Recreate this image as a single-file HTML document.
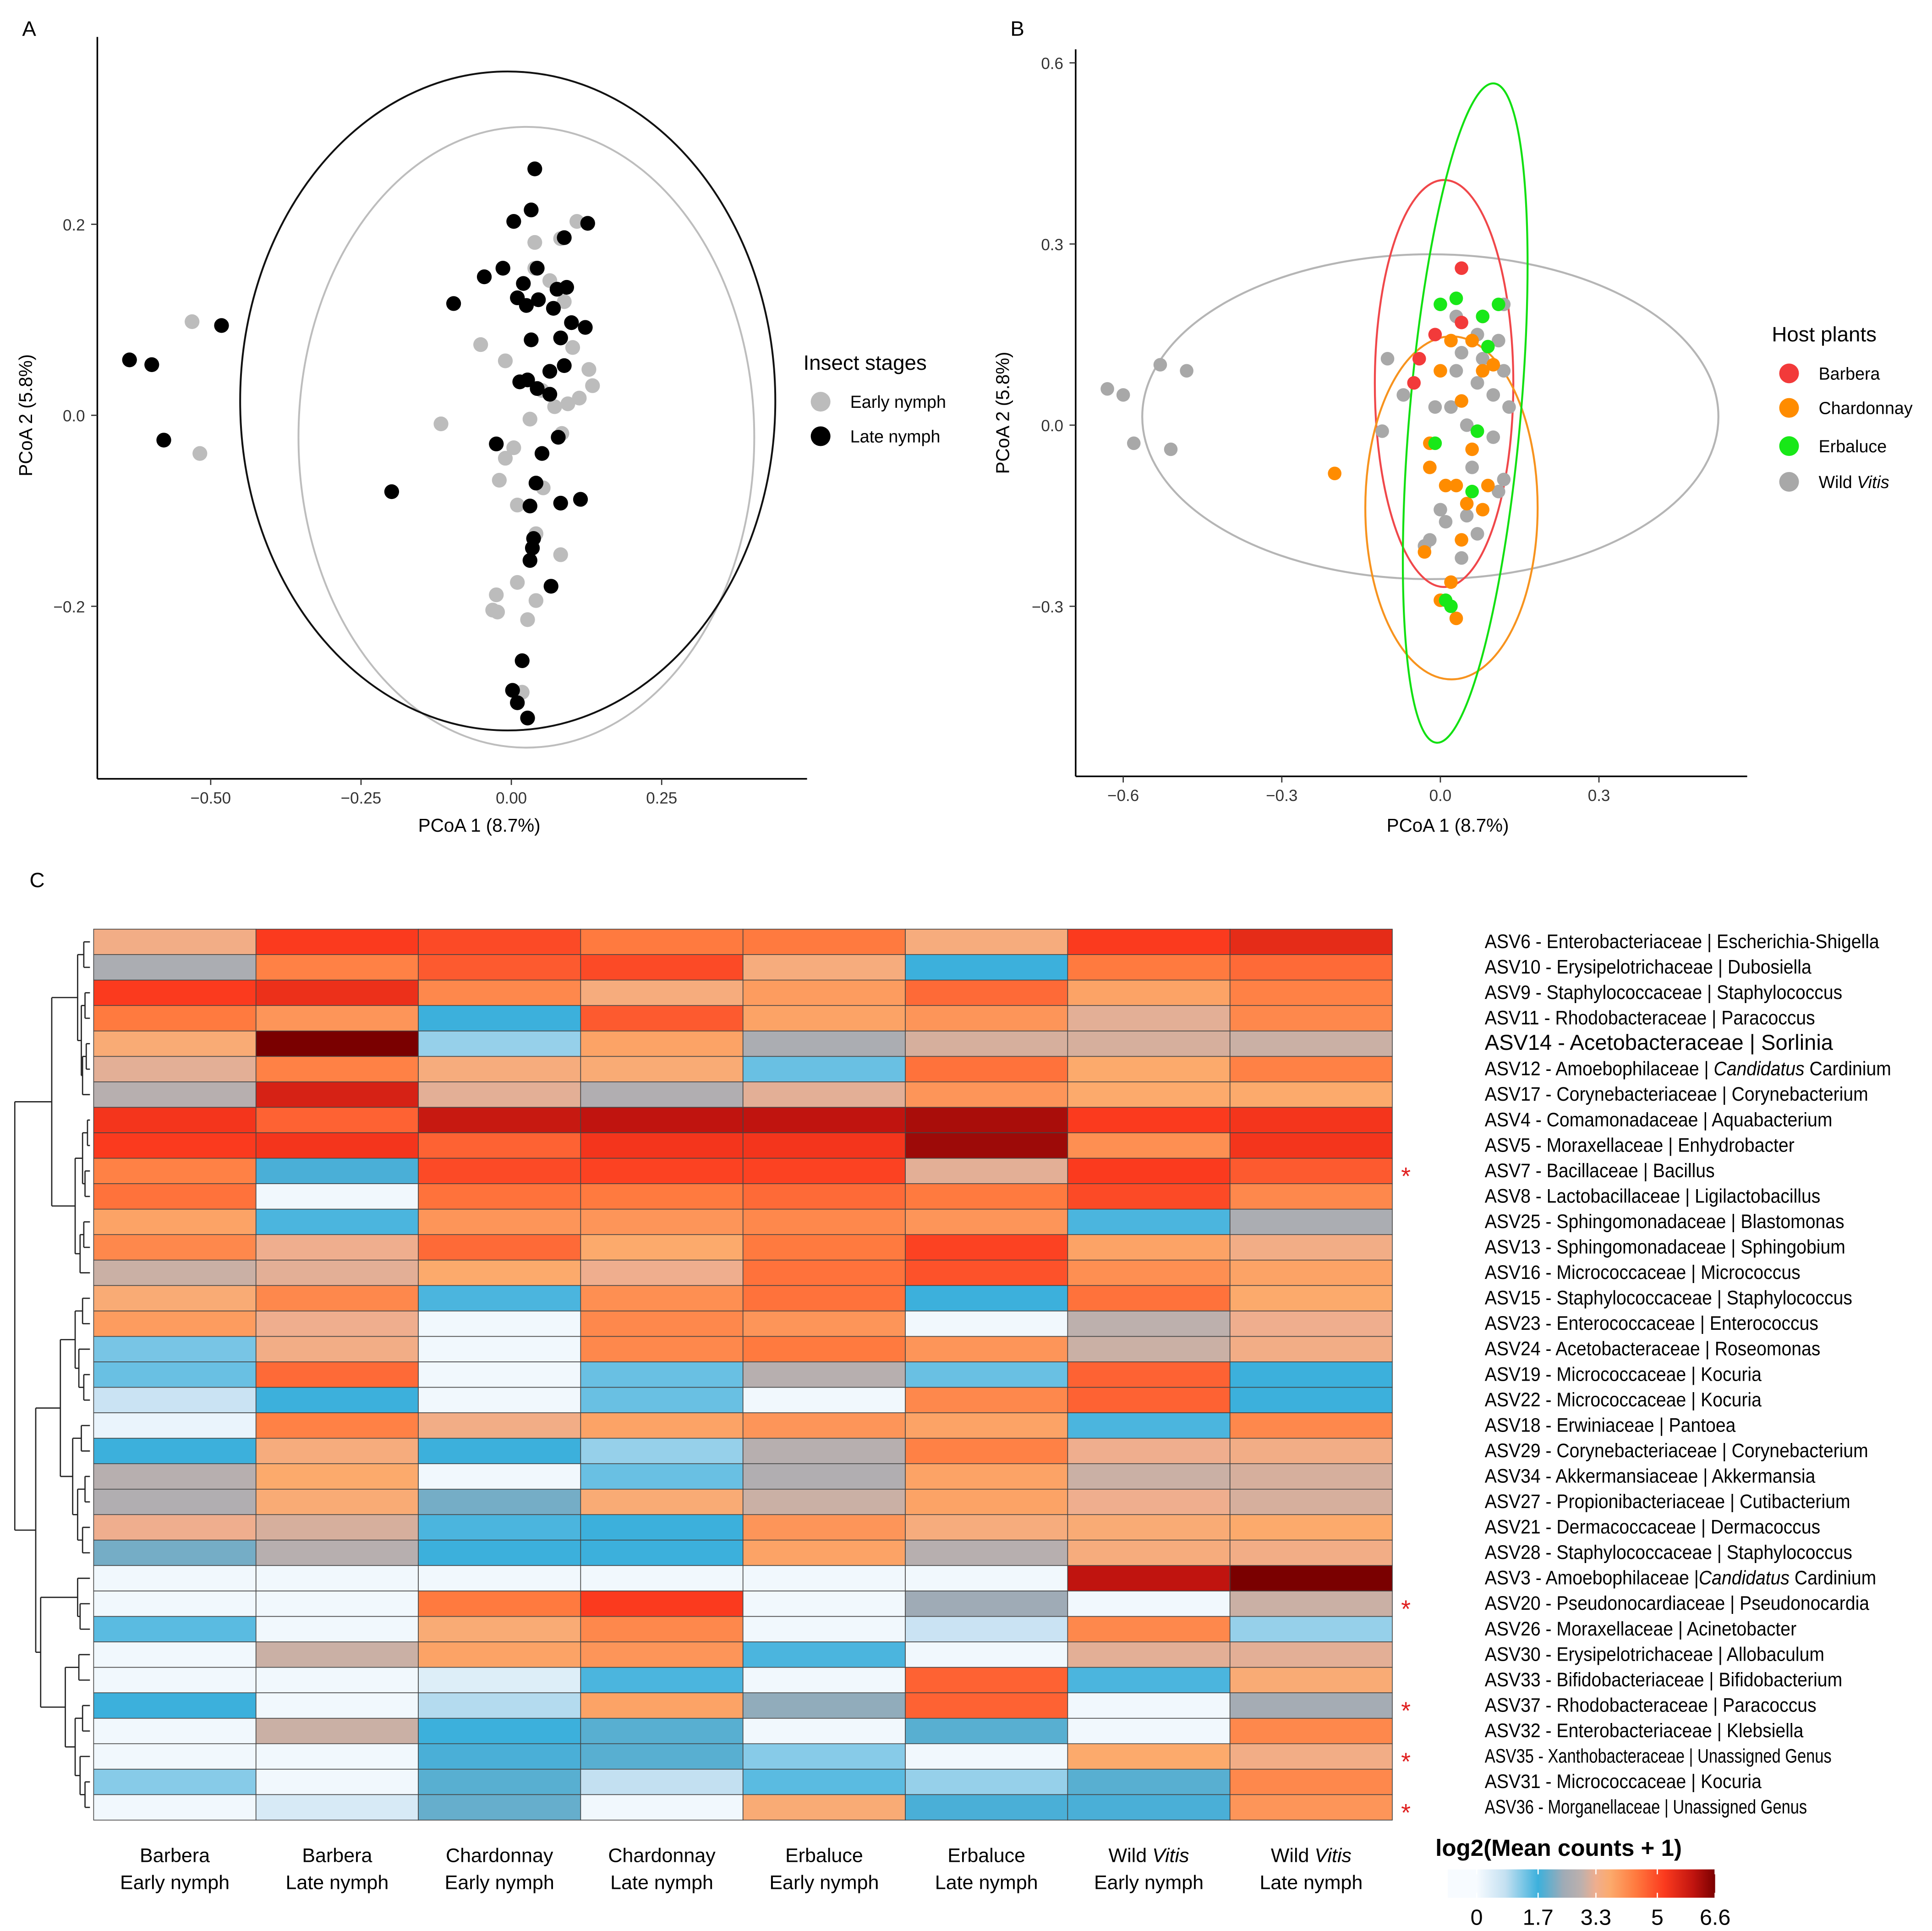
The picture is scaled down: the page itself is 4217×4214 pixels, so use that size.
<!DOCTYPE html>
<html><head><meta charset="utf-8">
<style>
html,body{margin:0;padding:0;background:#fff;}
svg{display:block;font-family:"Liberation Sans",sans-serif;}
</style></head>
<body>
<svg id="fig" width="4217" height="4214" viewBox="0 0 1568 1567" preserveAspectRatio="none" xmlns="http://www.w3.org/2000/svg">
<defs id="defs"></defs>
<rect x="0" y="0" width="1568" height="1567" fill="#fff"/>
<g id="pA"></g>
<g id="pB"></g>
<g id="pC"></g>
</svg>
<script>
// ---------- Panel A data ----------
const aLateX=[0.039,0.033,0.004,0.088,0.127,-0.014,-0.096,0.020,0.043,-0.045,0.010,0.045,0.076,0.092,0.025,0.070,0.123,0.100,0.033,0.082,0.088,0.064,0.027,0.014,0.043,0.064,-0.025,0.078,0.051,0.041,0.031,0.082,0.115,0.037,0.035,0.031,0.066,-0.199,-0.482,-0.635,-0.598,-0.578,0.018,0.002,0.010,0.027];
const aLateY=[0.258,0.215,0.203,0.186,0.201,0.154,0.117,0.138,0.154,0.145,0.123,0.121,0.132,0.134,0.115,0.112,0.092,0.097,0.079,0.081,0.052,0.046,0.037,0.035,0.028,0.022,-0.030,-0.023,-0.040,-0.071,-0.095,-0.092,-0.088,-0.129,-0.139,-0.152,-0.179,-0.080,0.094,0.058,0.053,-0.026,-0.257,-0.288,-0.301,-0.317];
const aEarlyX=[0.039,0.082,0.109,0.039,0.064,0.088,-0.051,-0.010,0.102,0.129,0.135,0.113,0.094,0.072,-0.117,-0.020,0.010,0.004,0.084,-0.010,0.053,0.041,0.082,0.010,-0.025,-0.031,-0.023,0.041,0.027,-0.531,-0.518,0.018,0.051,0.031];
const aEarlyY=[0.181,0.185,0.203,0.154,0.141,0.119,0.074,0.057,0.071,0.048,0.031,0.018,0.012,0.009,-0.009,-0.068,-0.094,-0.034,-0.019,-0.045,-0.076,-0.124,-0.146,-0.175,-0.188,-0.204,-0.206,-0.194,-0.214,0.098,-0.040,-0.290,0.026,-0.004];
const aXTicks=[-0.50,-0.25,0.00,0.25];
const aXTickLabels=["\u22120.50","\u22120.25","0.00","0.25"];
const aYTicks=[0.2,0.0,-0.2];
const aYTickLabels=["0.2","0.0","\u22120.2"];
const aEllLate=[-0.006,0.015,0.445,0.345];
const aEllEarly=[0.025,-0.023,0.379,0.325];

// ---------- Panel B data ----------
const bGrayX=[-0.63,-0.60,-0.53,-0.48,-0.58,-0.51,-0.10,-0.11,0.03,0.06,0.08,0.12,0.13,0.10,0.03,-0.01,0.02,0.07,0.05,0.10,0.06,0.12,0.11,0.05,0.01,-0.02,-0.03,0.07,0.04,0.00,0.12,0.11,0.04,-0.07,0.07];
const bGrayY=[0.06,0.05,0.10,0.09,-0.03,-0.04,0.11,-0.01,0.18,0.14,0.11,0.09,0.03,0.05,0.09,0.03,0.03,0.07,0.00,-0.02,-0.07,-0.09,-0.11,-0.15,-0.16,-0.19,-0.20,-0.18,-0.22,-0.14,0.20,0.14,0.12,0.05,0.15];
const bOrangeX=[-0.20,-0.02,0.02,0.06,0.10,0.00,0.04,0.06,-0.02,0.01,0.03,0.09,0.05,0.08,0.04,-0.03,0.02,0.00,0.03,0.08];
const bOrangeY=[-0.08,-0.03,0.14,0.14,0.10,0.09,0.04,-0.04,-0.07,-0.10,-0.10,-0.10,-0.13,-0.14,-0.19,-0.21,-0.26,-0.29,-0.32,0.09];
const bRedX=[0.04,-0.05,-0.04,-0.01,0.04,0.08];
const bRedY=[0.26,0.07,0.11,0.15,0.17,0.18];
const bGreenX=[0.00,0.03,0.08,0.11,0.09,0.07,-0.01,0.06,0.01,0.02];
const bGreenY=[0.20,0.21,0.18,0.20,0.13,-0.01,-0.03,-0.11,-0.29,-0.30];
const bXTicks=[-0.6,-0.3,0.0,0.3];
const bXTickLabels=["\u22120.6","\u22120.3","0.0","0.3"];
const bYTicks=[0.6,0.3,0.0,-0.3];
const bYTickLabels=["0.6","0.3","0.0","\u22120.3"];
const bEllGray=[-0.019,0.014,0.545,0.269,0];
const bEllRed=[0.007,0.069,0.131,0.337,0];
const bEllOrange=[0.021,-0.137,0.163,0.284,0];
const bEllGreen=[0.047,0.020,0.105,0.548,5];

// ---------- Panel C data ----------
const hmColumns=[["Barbera","Early nymph"],["Barbera","Late nymph"],["Chardonnay","Early nymph"],["Chardonnay","Late nymph"],["Erbaluce","Early nymph"],["Erbaluce","Late nymph"],["Wild Vitis","Early nymph"],["Wild Vitis","Late nymph"]];
const hmRows=["ASV6 - Enterobacteriaceae | Escherichia-Shigella","ASV10 - Erysipelotrichaceae | Dubosiella","ASV9 - Staphylococcaceae | Staphylococcus","ASV11 - Rhodobacteraceae | Paracoccus","ASV14 - Acetobacteraceae | Sorlinia","ASV12 - Amoebophilaceae | Candidatus Cardinium","ASV17 - Corynebacteriaceae | Corynebacterium","ASV4 - Comamonadaceae | Aquabacterium","ASV5 - Moraxellaceae | Enhydrobacter","ASV7 - Bacillaceae | Bacillus","ASV8 - Lactobacillaceae | Ligilactobacillus","ASV25 - Sphingomonadaceae | Blastomonas","ASV13 - Sphingomonadaceae | Sphingobium","ASV16 - Micrococcaceae | Micrococcus","ASV15 - Staphylococcaceae | Staphylococcus","ASV23 - Enterococcaceae | Enterococcus","ASV24 - Acetobacteraceae | Roseomonas","ASV19 - Micrococcaceae | Kocuria","ASV22 - Micrococcaceae | Kocuria","ASV18 - Erwiniaceae | Pantoea","ASV29 - Corynebacteriaceae | Corynebacterium","ASV34 - Akkermansiaceae | Akkermansia","ASV27 - Propionibacteriaceae | Cutibacterium","ASV21 - Dermacoccaceae | Dermacoccus","ASV28 - Staphylococcaceae | Staphylococcus","ASV3 - Amoebophilaceae |Candidatus Cardinium","ASV20 - Pseudonocardiaceae | Pseudonocardia","ASV26 - Moraxellaceae | Acinetobacter","ASV30 - Erysipelotrichaceae | Allobaculum","ASV33 - Bifidobacteriaceae | Bifidobacterium","ASV37 - Rhodobacteraceae | Paracoccus","ASV32 - Enterobacteriaceae | Klebsiella","ASV35 - Xanthobacteraceae | Unassigned Genus","ASV31 - Micrococcaceae | Kocuria","ASV36 - Morganellaceae | Unassigned Genus"];
const hmValues=[
[3.4,5.2,5.0,4.4,4.4,3.5,5.2,5.5],
[2.6,4.3,4.8,5.0,3.5,1.7,4.4,4.6],
[5.2,5.4,4.2,3.5,3.9,4.6,3.8,4.3],
[4.4,4.0,1.7,4.8,3.8,4.0,3.2,4.2],
[3.6,6.6,1.1,3.8,2.6,3.1,3.1,3.0],
[3.2,4.3,3.5,3.6,1.4,4.5,3.7,4.3],
[2.8,5.7,3.2,2.7,3.2,4.0,3.7,3.7],
[5.3,4.7,5.9,6.0,6.0,6.2,5.2,5.3],
[5.2,5.3,4.7,5.3,5.3,6.3,4.1,5.3],
[4.3,1.8,5.0,5.1,5.1,3.2,5.2,4.8],
[4.5,0.1,4.5,4.4,4.6,4.4,5.0,4.2],
[3.8,1.6,4.0,4.0,4.2,4.0,1.6,2.6],
[4.2,3.3,4.6,3.7,4.4,5.1,3.8,3.4],
[3.0,3.2,3.7,3.3,4.5,4.9,4.1,3.8],
[3.6,4.2,1.6,4.1,4.5,1.7,4.5,3.7],
[3.9,3.3,0.1,4.2,4.0,0.1,2.9,3.3],
[1.3,3.4,0.1,4.2,4.4,4.0,3.0,3.4],
[1.4,4.6,0.1,1.4,2.8,1.4,4.7,1.7],
[0.7,1.7,0.1,1.4,0.1,4.2,4.7,1.7],
[0.2,4.3,3.4,3.8,4.0,3.8,1.6,4.2],
[1.7,3.5,1.7,1.1,2.8,4.3,3.3,3.4],
[2.8,3.7,0.1,1.4,2.7,3.8,3.0,3.1],
[2.7,3.6,2.1,3.6,3.0,3.8,3.3,3.1],
[3.3,3.1,1.6,1.7,4.0,3.5,3.6,3.7],
[2.1,2.8,1.7,1.7,3.8,2.8,3.5,3.4],
[0.1,0.1,0.1,0.1,0.1,0.1,6.0,6.6],
[0.1,0.1,4.4,5.2,0.1,2.4,0.1,3.0],
[1.5,0.1,3.6,4.2,0.1,0.7,4.2,1.1],
[0.1,3.0,3.8,4.0,1.6,0.1,3.2,3.2],
[0.1,0.1,0.4,1.6,0.1,4.7,1.6,3.6],
[1.7,0.1,0.9,3.8,2.3,4.7,0.1,2.5],
[0.1,3.0,1.7,1.9,0.1,1.9,0.1,4.2],
[0.1,0.1,1.8,1.9,1.2,0.1,3.7,3.4],
[1.2,0.1,1.9,0.8,1.5,1.1,1.9,4.2],
[0.1,0.5,2.0,0.1,3.6,1.8,1.8,4.0]];
const hmSignificant=[9,26,30,32,34];
const cbTicks=[0,1.7,3.3,5,6.6];
const cbTickLabels=["0","1.7","3.3","5","6.6"];
const colorStopVals=[0,0.8,1.7,2.4,2.9,3.3,3.7,4.4,5.2,6.0,6.6];
const colorStopCols=["#f7fbff","#c3e0f1","#3cb0dc","#9fabb6","#bdb0ad","#efae8e","#fcaa6c","#ff7a3f","#fb3a1e","#c0140f","#7a0000"];
// dendrogram: [height, left, right]; leaves are row indices
const dendro=[61,
 [31,[10,[5,0,1],[7,[4,2,3],[6,[3,4,5],6]]],[12,[6,[2,7,8],[4,9,10]],[8,[5,11,12],13]]],
 [44,[24,[12,[6,14,15],[9,16,[5,17,18]]],[14,[7,19,20],[10,[4,21,22],[6,23,24]]]],
     [40,[10,25,[8,26,27]],[20,[9,28,29],[12,[6,30,31],[8,32,[4,33,34]]]]]]];

const NS="http://www.w3.org/2000/svg";
function mk(parent,tag,attrs,text){const e=document.createElementNS(NS,tag);for(const k in attrs)e.setAttribute(k,attrs[k]);if(text!==undefined)e.textContent=text;parent.appendChild(e);return e;}

// ================= Panel A =================
const pA=document.getElementById('pA');
const axA={x0:415,xs:488,y0:337,ys:775,left:79,right:655,top:30,bottom:632};
const ax=v=>axA.x0+v*axA.xs, ay=v=>axA.y0-v*axA.ys;
let t=mk(pA,'text',{x:18,y:29,'font-size':17},'A');


let l=mk(pA,'line',{x1:axA.left,y1:axA.top,x2:axA.left,y2:axA.bottom,stroke:'#000','stroke-width':1.3});


l=mk(pA,'line',{x1:axA.left,y1:axA.bottom,x2:axA.right,y2:axA.bottom,stroke:'#000','stroke-width':1.3});


aXTicks.forEach((v,i)=>{
  mk(pA,'line',{x1:ax(v),y1:axA.bottom,x2:ax(v),y2:axA.bottom+5,stroke:'#333'});
  const e=mk(pA,'text',{x:ax(v),y:axA.bottom+20,'font-size':13,'text-anchor':'middle',fill:'#333'},aXTickLabels[i]);
  
  
});
aYTicks.forEach((v,i)=>{
  mk(pA,'line',{x1:axA.left-5,y1:ay(v),x2:axA.left,y2:ay(v),stroke:'#333'});
  const e=mk(pA,'text',{x:axA.left-10,y:ay(v)+5,'font-size':13,'text-anchor':'end',fill:'#333'},aYTickLabels[i]);
  
  
});
t=mk(pA,'text',{x:389,y:675,'font-size':15,'text-anchor':'middle'},'PCoA 1 (8.7%)');


t=mk(pA,'text',{x:0,y:0,'font-size':15,'text-anchor':'middle',transform:'translate(26,337) rotate(-90)'},'PCoA 2 (5.8%)');


let el=mk(pA,'ellipse',{cx:ax(aEllEarly[0]),cy:ay(aEllEarly[1]),rx:aEllEarly[2]*axA.xs,ry:aEllEarly[3]*axA.ys,fill:'none',stroke:'#bdbdbd','stroke-width':1.5});


el=mk(pA,'ellipse',{cx:ax(aEllLate[0]),cy:ay(aEllLate[1]),rx:aEllLate[2]*axA.xs,ry:aEllLate[3]*axA.ys,fill:'none',stroke:'#111','stroke-width':1.5});


aEarlyX.forEach((v,i)=>{
  const c=mk(pA,'circle',{cx:ax(v),cy:ay(aEarlyY[i]),r:6,fill:'#bcbcbc'});
  
  
});
aLateX.forEach((v,i)=>{
  const c=mk(pA,'circle',{cx:ax(v),cy:ay(aLateY[i]),r:6,fill:'#000'});
  
  
});
t=mk(pA,'text',{x:652,y:300,'font-size':17},'Insect stages');


[['Early nymph','#bcbcbc',326],['Late nymph','#000',354]].forEach(d=>{
  const g=mk(pA,'g',{});
  
  
  mk(g,'circle',{cx:666,cy:d[2],r:8,fill:d[1]});
  mk(g,'text',{x:690,y:d[2]+5,'font-size':14},d[0]);
});

// ================= Panel B =================
const pB=document.getElementById('pB');
const axB={x0:1169,xs:429,y0:345,ys:490,left:873,right:1418,top:40,bottom:630};
const bx=v=>axB.x0+v*axB.xs, by=v=>axB.y0-v*axB.ys;
t=mk(pB,'text',{x:820,y:29,'font-size':17},'B');


l=mk(pB,'line',{x1:axB.left,y1:axB.top,x2:axB.left,y2:axB.bottom,stroke:'#000','stroke-width':1.3});


l=mk(pB,'line',{x1:axB.left,y1:axB.bottom,x2:axB.right,y2:axB.bottom,stroke:'#000','stroke-width':1.3});


bXTicks.forEach((v,i)=>{
  mk(pB,'line',{x1:bx(v),y1:axB.bottom,x2:bx(v),y2:axB.bottom+5,stroke:'#333'});
  const e=mk(pB,'text',{x:bx(v),y:axB.bottom+20,'font-size':13,'text-anchor':'middle',fill:'#333'},bXTickLabels[i]);
  
  
});
bYTicks.forEach((v,i)=>{
  mk(pB,'line',{x1:axB.left-5,y1:by(v),x2:axB.left,y2:by(v),stroke:'#333'});
  const e=mk(pB,'text',{x:axB.left-10,y:by(v)+5,'font-size':13,'text-anchor':'end',fill:'#333'},bYTickLabels[i]);
  
  
});
t=mk(pB,'text',{x:1175,y:675,'font-size':15,'text-anchor':'middle'},'PCoA 1 (8.7%)');


t=mk(pB,'text',{x:0,y:0,'font-size':15,'text-anchor':'middle',transform:'translate(819,335) rotate(-90)'},'PCoA 2 (5.8%)');


[[bEllGray,'#b5b5b5','b-ellipse-wild-vitis'],[bEllRed,'#f0474a','b-ellipse-barbera'],[bEllOrange,'#f7931e','b-ellipse-chardonnay'],[bEllGreen,'#12e012','b-ellipse-erbaluce']].forEach(d=>{
  const E=d[0];
  const e=mk(pB,'ellipse',{cx:bx(E[0]),cy:by(E[1]),rx:E[2]*axB.xs,ry:E[3]*axB.ys,fill:'none',stroke:d[1],'stroke-width':1.6,transform:`rotate(${E[4]} ${bx(E[0])} ${by(E[1])})`});
  
  
});
function ptsB(xs,ys,col,name){xs.forEach((v,i)=>{
  const c=mk(pB,'circle',{cx:bx(v),cy:by(ys[i]),r:5.5,fill:col});
  
  
});}
ptsB(bGrayX,bGrayY,'#a8a8a8','point-wild-vitis');
ptsB(bOrangeX,bOrangeY,'#ff8c00','point-chardonnay');
ptsB(bRedX,bRedY,'#f23a3a','point-barbera');
ptsB(bGreenX,bGreenY,'#18e818','point-erbaluce');
t=mk(pB,'text',{x:1438,y:277,'font-size':17},'Host plants');


[['Barbera','#f23a3a',303],['Chardonnay','#ff8c00',331],['Erbaluce','#18e818',362],['Wild ','#a8a8a8',391]].forEach(d=>{
  const g=mk(pB,'g',{});
  
  
  mk(g,'circle',{cx:1452,cy:d[2],r:8,fill:d[1]});
  const tx=mk(g,'text',{x:1476,y:d[2]+5,'font-size':14},d[0]);
  if(d[0]==='Wild '){mk(tx,'tspan',{'font-style':'italic'},'Vitis');}
});

// ================= Panel C =================
const pC=document.getElementById('pC');
const hm={left:76,right:1130,top:754,bottom:1477};
const cw=(hm.right-hm.left)/hmColumns.length, rh=(hm.bottom-hm.top)/hmRows.length;
const colX=i=>hm.left+i*cw, rowY=i=>hm.top+i*rh;
function hex2rgb(h){return [1,3,5].map(i=>parseInt(h.substr(i,2),16));}
function colorFor(v){
  if(v<=colorStopVals[0])return colorStopCols[0];
  for(let i=1;i<colorStopVals.length;i++){
    if(v<=colorStopVals[i]){
      const f=(v-colorStopVals[i-1])/(colorStopVals[i]-colorStopVals[i-1]);
      const a=hex2rgb(colorStopCols[i-1]),b=hex2rgb(colorStopCols[i]);
      return 'rgb('+a.map((c,k)=>Math.round(c+(b[k]-c)*f)).join(',')+')';
    }
  }
  return colorStopCols[colorStopCols.length-1];
}
t=mk(pC,'text',{x:24,y:720,'font-size':17},'C');


hmValues.forEach((row,r)=>row.forEach((v,c)=>{
  const rc=mk(pC,'rect',{x:colX(c),y:rowY(r),width:cw,height:rh,fill:colorFor(v),stroke:'#444','stroke-width':0.6});
  
  
}));
hmColumns.forEach((c,i)=>{
  const cx=colX(i)+cw/2;
  const g=mk(pC,'g',{});
  
  
  const t1=mk(g,'text',{x:cx,y:1511,'font-size':16,'text-anchor':'middle'});
  if(c[0]==='Wild Vitis'){t1.textContent='Wild ';mk(t1,'tspan',{'font-style':'italic'},'Vitis');}
  else t1.textContent=c[0];
  mk(g,'text',{x:cx,y:1533,'font-size':16,'text-anchor':'middle'},c[1]);
});
hmRows.forEach((name,i)=>{
  const cy=rowY(i)+rh/2+5;
  let sx=0.91, fs=16;
  if(i===4){sx=1;fs=17.5;}
  if(i===32||i===34){sx=0.8;}
  const g=mk(pC,'g',{transform:`translate(1205,${cy}) scale(${sx},1)`});
  
  
  const tx=mk(g,'text',{x:0,y:0,'font-size':fs});
  const m=name.match(/^(.*?)(Candidatus)(.*)$/);
  if(m){tx.textContent=m[1];mk(tx,'tspan',{'font-style':'italic'},m[2]);mk(tx,'tspan',{},m[3]);}
  else tx.textContent=name;
});
hmSignificant.forEach(r=>{
  const s=mk(pC,'text',{x:1141,y:rowY(r)+rh/2+11,'font-size':20,fill:'#e02020','text-anchor':'middle'},'*');
  
  
});
// dendrogram
const dg=mk(pC,'g',{fill:'none',stroke:'#222','stroke-width':1});


function drawNode(n){
  if(typeof n==='number'){return {x:hm.left-3,y:rowY(n)+rh/2};}
  const h=n[0];
  const ch=[n[1],n[2]].map(drawNode);
  const x=hm.left-3-h;
  ch.forEach(c=>mk(dg,'line',{x1:x,y1:c.y,x2:c.x,y2:c.y}));
  mk(dg,'line',{x1:x,y1:ch[0].y,x2:x,y2:ch[1].y});
  return {x:x,y:(ch[0].y+ch[1].y)/2};
}
drawNode(dendro);
// colour bar legend
t=mk(pC,'text',{x:1165,y:1506,'font-size':19,'font-weight':'bold'},'log2(Mean counts + 1)');


const cb={x0:1175,x1:1392,y:1517,h:23,vmin:-0.8,vmax:6.6};
const cbx=v=>cb.x0+(v-cb.vmin)/(cb.vmax-cb.vmin)*(cb.x1-cb.x0);
const grad=mk(document.getElementById('defs'),'linearGradient',{id:'cbg',x1:'0',x2:'1',y1:'0',y2:'0'});
mk(grad,'stop',{offset:0,'stop-color':colorStopCols[0]});
colorStopVals.forEach((v,i)=>mk(grad,'stop',{offset:((v-cb.vmin)/(cb.vmax-cb.vmin)),'stop-color':colorStopCols[i]}));
const cbr=mk(pC,'rect',{x:cb.x0,y:cb.y,width:cb.x1-cb.x0,height:cb.h,fill:'url(#cbg)'});


cbTicks.forEach((v,i)=>{
  mk(pC,'line',{x1:cbx(v),y1:cb.y,x2:cbx(v),y2:cb.y+4,stroke:'#fff'});
  mk(pC,'line',{x1:cbx(v),y1:cb.y+cb.h-4,x2:cbx(v),y2:cb.y+cb.h,stroke:'#fff'});
  const e=mk(pC,'text',{x:cbx(v),y:1562,'font-size':18,'text-anchor':'middle'},cbTickLabels[i]);
  
  
});
</script>
</body></html>
